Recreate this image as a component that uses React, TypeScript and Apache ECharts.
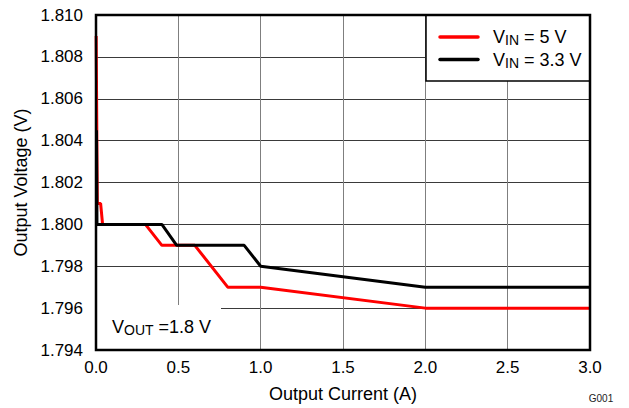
import React, { useEffect, useRef } from "react";
import * as echarts from "echarts";

// Output current (A) and output voltage (V) for each input voltage
const seriesNames = ["V_IN = 5 V", "V_IN = 3.3 V"];
const seriesColors = ["#ff0000", "#000000"];

const red5vCurrent = [0.001, 0.008, 0.028, 0.04, 0.3, 0.4, 0.6, 0.8, 1.0, 2.0, 3.0];
const red5vVoltage = [1.809, 1.801, 1.801, 1.8, 1.8, 1.799, 1.799, 1.797, 1.797, 1.796, 1.796];

const black33Current = [0.003, 0.006, 0.4, 0.49, 0.9, 1.0, 2.0, 3.0];
const black33Voltage = [1.8045, 1.8, 1.8, 1.799, 1.799, 1.798, 1.797, 1.797];

const xMin = 0;
const xMax = 3;
const xStep = 0.5;
const yMin = 1.794;
const yMax = 1.81;
const yStep = 0.002;

const xTitle = "Output Current (A)";
const yTitle = "Output Voltage (V)";
const figId = "G001";

const FONT = "'Liberation Sans', Arial, sans-serif";

function zip(xs: number[], ys: number[]) {
  return xs.map((x, i) => [x, ys[i]]);
}

function subText(label: string) {
  // "V_IN = 5 V" -> rich text with subscript
  const m = label.match(/^(\w)_(\w+)(.*)$/);
  if (!m) return label;
  return `{v|${m[1]}}{s|${m[2]}}{v|${m[3]}}`;
}

export default function App() {
  const ref = useRef<HTMLDivElement>(null);
  useEffect(() => {
    if (!ref.current) return;
    const chart = echarts.init(ref.current, null, { renderer: "svg" });
    const gl = 96, gt = 15, gr = 590, gb = 350;
    const rich = {
      v: { fontSize: 18, lineHeight: 20, fontFamily: FONT, color: "#000" },
      s: { fontSize: 14, lineHeight: 8, verticalAlign: "bottom", fontFamily: FONT, color: "#000" },
    };
    chart.setOption({
      animation: false,
      backgroundColor: "#fff",
      textStyle: { fontFamily: FONT },
      grid: { left: gl, top: gt, right: 629 - gr, bottom: 408 - gb, containLabel: false },
      xAxis: {
        type: "value",
        min: xMin,
        max: xMax,
        interval: xStep,
        name: xTitle,
        nameLocation: "middle",
        nameGap: 35,
        nameTextStyle: { fontSize: 18, color: "#000", fontFamily: FONT },
        axisLine: { show: false },
        axisTick: { show: false },
        axisLabel: { fontSize: 17, color: "#000", margin: 9, formatter: (v: number) => v.toFixed(1) },
        splitLine: { show: true, lineStyle: { color: "#7f7f7f", width: 1 } },
      },
      yAxis: {
        type: "value",
        min: yMin,
        max: yMax,
        interval: yStep,
        name: yTitle,
        nameLocation: "middle",
        nameGap: 65,
        nameTextStyle: { fontSize: 18, color: "#000", fontFamily: FONT },
        axisLine: { show: false },
        axisTick: { show: false },
        axisLabel: { fontSize: 17, color: "#000", margin: 13, formatter: (v: number) => v.toFixed(3) },
        splitLine: { show: true, lineStyle: { color: "#3a3a3a", width: 1 } },
      },
      series: [
        {
          name: seriesNames[0],
          type: "line",
          data: zip(red5vCurrent, red5vVoltage),
          showSymbol: false,
          symbol: "none",
          lineStyle: { color: seriesColors[0], width: 3 },
          z: 3,
        },
        {
          name: seriesNames[1],
          type: "line",
          data: zip(black33Current, black33Voltage),
          showSymbol: false,
          symbol: "none",
          lineStyle: { color: seriesColors[1], width: 3 },
          z: 4,
        },
      ],
      graphic: [
        // annotation box
        {
          type: "rect",
          z: 10,
          shape: { x: gl + 1, y: 305, width: 220 - gl, height: gb - 305 - 1 },
          style: { fill: "#fff", stroke: "none" },
        },
        {
          type: "text",
          z: 11,
          x: 112,
          y: 327,
          style: {
            text: "{v|V}{s|OUT}{v| =1.8 V}",
            rich,
            verticalAlign: "middle",
            align: "left",
          },
        },
        // legend box
        {
          type: "rect",
          z: 10,
          shape: { x: 426, y: gt, width: gr - 426, height: 81 - gt },
          style: { fill: "#fff", stroke: "#000", lineWidth: 1.5 },
        },
        ...seriesNames.flatMap((name, i) => [
          {
            type: "line",
            z: 11,
            shape: { x1: 440, y1: 37 + i * 22.5, x2: 478, y2: 37 + i * 22.5 },
            style: { stroke: seriesColors[i], lineWidth: 3.5, lineCap: "round" },
          },
          {
            type: "text",
            z: 11,
            x: 493,
            y: 37 + i * 22.5,
            style: { text: subText(name), rich, verticalAlign: "middle", align: "left" },
          },
        ]),
        // plot border
        {
          type: "rect",
          z: 20,
          shape: { x: gl, y: gt, width: gr - gl, height: gb - gt },
          style: { fill: "none", stroke: "#000", lineWidth: 2.5 },
        },
        {
          type: "text",
          z: 11,
          x: 601,
          y: 398,
          style: { text: figId, fontSize: 10, fill: "#222", fontFamily: FONT, align: "center", verticalAlign: "middle" },
        },
      ],
    });
    return () => chart.dispose();
  }, []);
  return (
    <div
      ref={ref}
      style={{ position: "fixed", left: 0, top: 0, width: 629, height: 408 }}
    />
  );
}
